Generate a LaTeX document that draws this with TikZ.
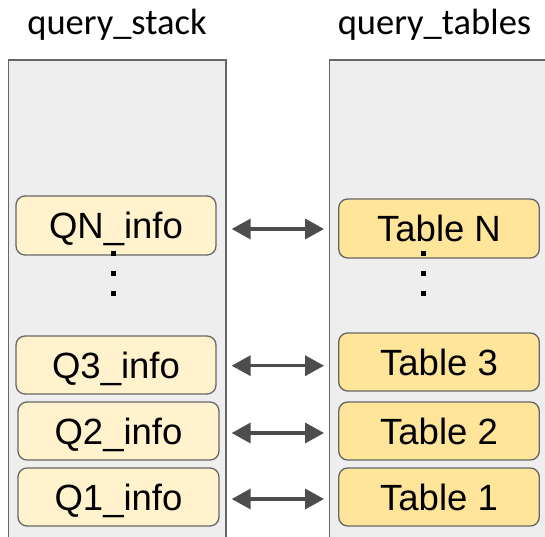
\documentclass[tikz,border=0pt]{standalone}
\usepackage{fontspec}
\setmainfont{Liberation Sans}
\newfontfamily\titlefont{Carlito}
\usetikzlibrary{arrows.meta}
\definecolor{panelfill}{HTML}{EEEEEE}
\definecolor{edgegray}{HTML}{666666}
\definecolor{infofill}{HTML}{FFF2CC}
\definecolor{tablefill}{HTML}{FFE599}
\definecolor{arrowgray}{HTML}{4D4D4D}
\begin{document}
\begin{tikzpicture}[x=1bp,y=-1bp,
  panel/.style={draw=edgegray,fill=panelfill,line width=1.5bp},
  entry/.style={draw=edgegray,line width=1.3bp,rounded corners=9bp,
    minimum width=200bp,minimum height=58bp,inner sep=0pt,
    font=\fontsize{36.5bp}{42bp}\selectfont,text height=26.1bp,text depth=0bp},
  info/.style={entry,fill=infofill},
  tbl/.style={entry,fill=tablefill},
  heading/.style={anchor=base,font=\titlefont\fontsize{36.5bp}{42bp}\selectfont},
  link/.style={draw=arrowgray,line width=3.5bp,
    {Triangle[length=19bp,width=20bp]}-{Triangle[length=19bp,width=20bp]},
    shorten <=15bp,shorten >=14bp},
  dot/.style={fill=black}
]
\useasboundingbox (0,0) rectangle (545,537);
\clip (0,0) rectangle (545,537);

% column headings
\node[heading] (hs) at (117,34.5) {query\_stack};
\node[heading] (ht) at (434.5,34.5) {query\_tables};

% the two stacks, open at the bottom
\path[panel] (8.3,60) rectangle (226,560);
\path[panel] (329.3,60) rectangle (570,560);

% query_stack entries
\node[info,minimum height=59bp] (QN) at (116,225.5) {QN\_info};
\node[info] (Q3) at (116,365) {Q3\_info};
\node[info,minimum width=201bp] (Q2) at (118.5,431) {Q2\_info};
\node[info,minimum width=201bp] (Q1) at (118.5,497) {Q1\_info};

% query_tables entries
\node[tbl,minimum width=200.6bp,minimum height=59bp] (TN) at (439,228.5) {Table N};
\node[tbl,minimum width=200.6bp] (T3) at (439,362) {Table 3};
\node[tbl,minimum width=200.6bp] (T2) at (439,431) {Table 2};
\node[tbl,minimum width=200.6bp] (T1) at (439,497) {Table 1};

% vertical ellipses between N and 3
\foreach \y in {253,273,293} {
  \fill[dot] (110.8,\y-2.5) rectangle ++(5,5);
  \fill[dot] (420.5,\y-2.5) rectangle ++(5,5);
}

% links between each query and its table
\draw[link] ([yshift=-0.5bp]TN.west -| QN.east) -- ([yshift=-0.5bp]TN.west);
\draw[link] ([yshift=-3.7bp]T3.west -| Q3.east) -- ([yshift=-3.7bp]T3.west);
\draw[link,shorten <=12bp] ([yshift=-2bp]T2.west -| Q2.east) -- ([yshift=-2bp]T2.west);
\draw[link,shorten <=12bp] ([yshift=-2bp]T1.west -| Q1.east) -- ([yshift=-2bp]T1.west);
\end{tikzpicture}
\end{document}
